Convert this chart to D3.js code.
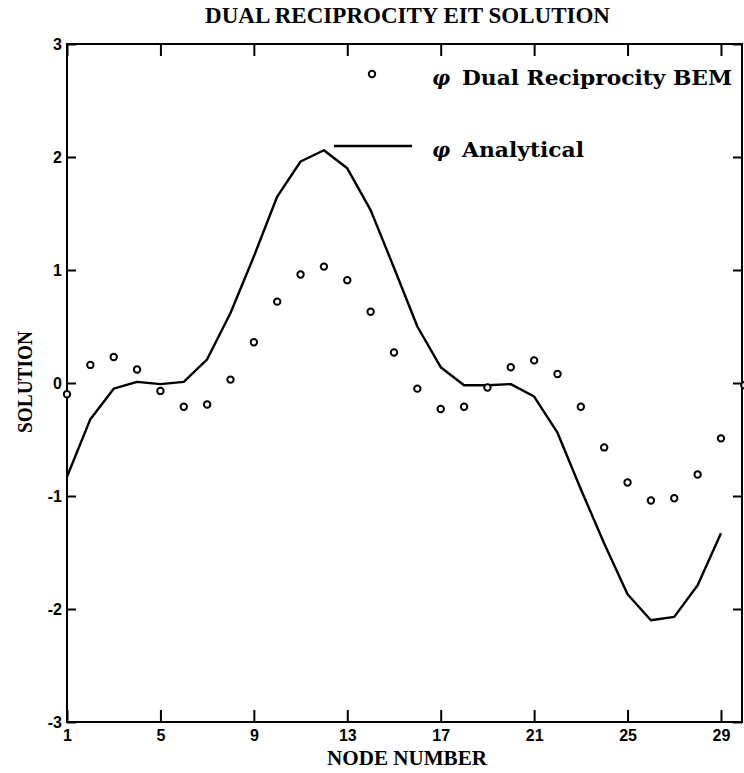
<!DOCTYPE html>
<html>
<head>
<meta charset="utf-8">
<script src="https://cdn.jsdelivr.net/npm/d3@7"></script>
<style>
html,body{margin:0;padding:0;background:#fff;}
svg{display:block;}
</style>
</head>
<body>
<script>
// ---- data ----
const nodes = d3.range(1, 30);            // nodes 1..29 (analytical)
const analytical = [-0.83, -0.32, -0.05, 0.01, -0.01, 0.01, 0.21, 0.62, 1.12, 1.65,
  1.96, 2.06, 1.90, 1.53, 1.02, 0.50, 0.14, -0.02, -0.02, -0.01,
  -0.12, -0.44, -0.94, -1.42, -1.87, -2.10, -2.07, -1.79, -1.33];
const bemNodes = d3.range(1, 31);         // nodes 1..30 (dual reciprocity)
const bem = [-0.10, 0.16, 0.23, 0.12, -0.07, -0.21, -0.19, 0.03, 0.36, 0.72,
  0.96, 1.03, 0.91, 0.63, 0.27, -0.05, -0.23, -0.21, -0.04, 0.14,
  0.20, 0.08, -0.21, -0.57, -0.88, -1.04, -1.02, -0.81, -0.49, -0.02];
const xTicks = [1, 5, 9, 13, 17, 21, 25, 29];
const yTicks = [-3, -2, -1, 0, 1, 2, 3];
const title = "DUAL RECIPROCITY EIT SOLUTION";
const xTitle = "NODE NUMBER";
const yTitle = "SOLUTION";
const legendLabels = ["Dual Reciprocity BEM", "Analytical"];

// ---- layout ----
const W = 744, H = 773;
const L = 67, R = 742, T = 44, B = 722;
const svg = d3.select("body").append("svg").attr("width", W).attr("height", H);

const x = d3.scaleLinear().domain([1, 29.9]).range([L, R]);
const y = d3.scaleLinear().domain([-3, 3]).range([B, T]);

const tickFont = "'Liberation Sans', Arial, sans-serif";
const serif = "'Liberation Serif', 'Times New Roman', serif";
const legFont = "'DejaVu Serif', serif";
const fmt = d => d < 0 ? "-" + Math.abs(d) : String(d);

function styleAxis(g) {
  g.select(".domain").remove();
  g.selectAll(".tick line").attr("stroke", "#000").attr("stroke-width", 2);
  g.selectAll(".tick text").attr("fill", "#000")
    .style("font-family", tickFont).style("font-weight", "bold").style("font-size", "16px");
}

svg.append("g").attr("transform", `translate(0,${B})`)
  .call(d3.axisBottom(x).tickValues(xTicks).tickSize(-12).tickSizeOuter(0).tickPadding(8).tickFormat(fmt))
  .call(styleAxis);
svg.append("g").attr("transform", `translate(0,${T})`)
  .call(d3.axisTop(x).tickValues(xTicks).tickSize(-12).tickSizeOuter(0).tickFormat(""))
  .call(styleAxis);
svg.append("g").attr("transform", `translate(${L},0)`)
  .call(d3.axisLeft(y).tickValues(yTicks).tickSize(-9).tickSizeOuter(0).tickPadding(5).tickFormat(fmt))
  .call(styleAxis);
svg.append("g").attr("transform", `translate(${R},0)`)
  .call(d3.axisRight(y).tickValues(yTicks).tickSize(-9).tickSizeOuter(0).tickFormat(""))
  .call(styleAxis);

// frame
svg.append("rect").attr("x", L).attr("y", T).attr("width", R - L).attr("height", B - T)
  .attr("fill", "none").attr("stroke", "#000").attr("stroke-width", 2);

// analytical line
const line = d3.line().x((d, i) => x(nodes[i])).y(d => y(d));
svg.append("path").datum(analytical).attr("d", line)
  .attr("fill", "none").attr("stroke", "#000").attr("stroke-width", 2.4).attr("stroke-linejoin", "round");

// BEM circles
svg.append("g").selectAll("circle").data(bem).join("circle")
  .attr("cx", (d, i) => x(bemNodes[i])).attr("cy", d => y(d)).attr("r", 3.2)
  .attr("fill", "#fff").attr("stroke", "#000").attr("stroke-width", 2);

// legend
svg.append("circle").attr("cx", 372).attr("cy", 74).attr("r", 3.2)
  .attr("fill", "#fff").attr("stroke", "#000").attr("stroke-width", 2);
svg.append("line").attr("x1", 334).attr("x2", 412).attr("y1", 146).attr("y2", 146)
  .attr("stroke", "#000").attr("stroke-width", 2.4);
const legY = [85, 157];
const legW = [270, 122];
legendLabels.forEach((t, i) => {
  svg.append("text").attr("x", 432).attr("y", legY[i]).text("φ")
    .style("font-family", legFont).style("font-style", "italic").style("font-weight", "bold")
    .style("font-size", "20px");
  svg.append("text").attr("x", 462).attr("y", legY[i]).text(t)
    .attr("textLength", legW[i]).attr("lengthAdjust", "spacingAndGlyphs")
    .style("font-family", legFont).style("font-weight", "bold").style("font-size", "21px");
});

// titles
svg.append("text").attr("x", 205).attr("y", 23).text(title)
  .attr("textLength", 405).attr("lengthAdjust", "spacingAndGlyphs")
  .style("font-family", serif).style("font-weight", "bold").style("font-size", "24px");
svg.append("text").attr("x", 327).attr("y", 765).text(xTitle)
  .attr("textLength", 160).attr("lengthAdjust", "spacingAndGlyphs")
  .style("font-family", serif).style("font-weight", "bold").style("font-size", "21px");
svg.append("text").attr("transform", "translate(32,433) rotate(-90)").text(yTitle)
  .attr("textLength", 102).attr("lengthAdjust", "spacingAndGlyphs")
  .style("font-family", serif).style("font-weight", "bold").style("font-size", "21px");
</script>
</body>
</html>
